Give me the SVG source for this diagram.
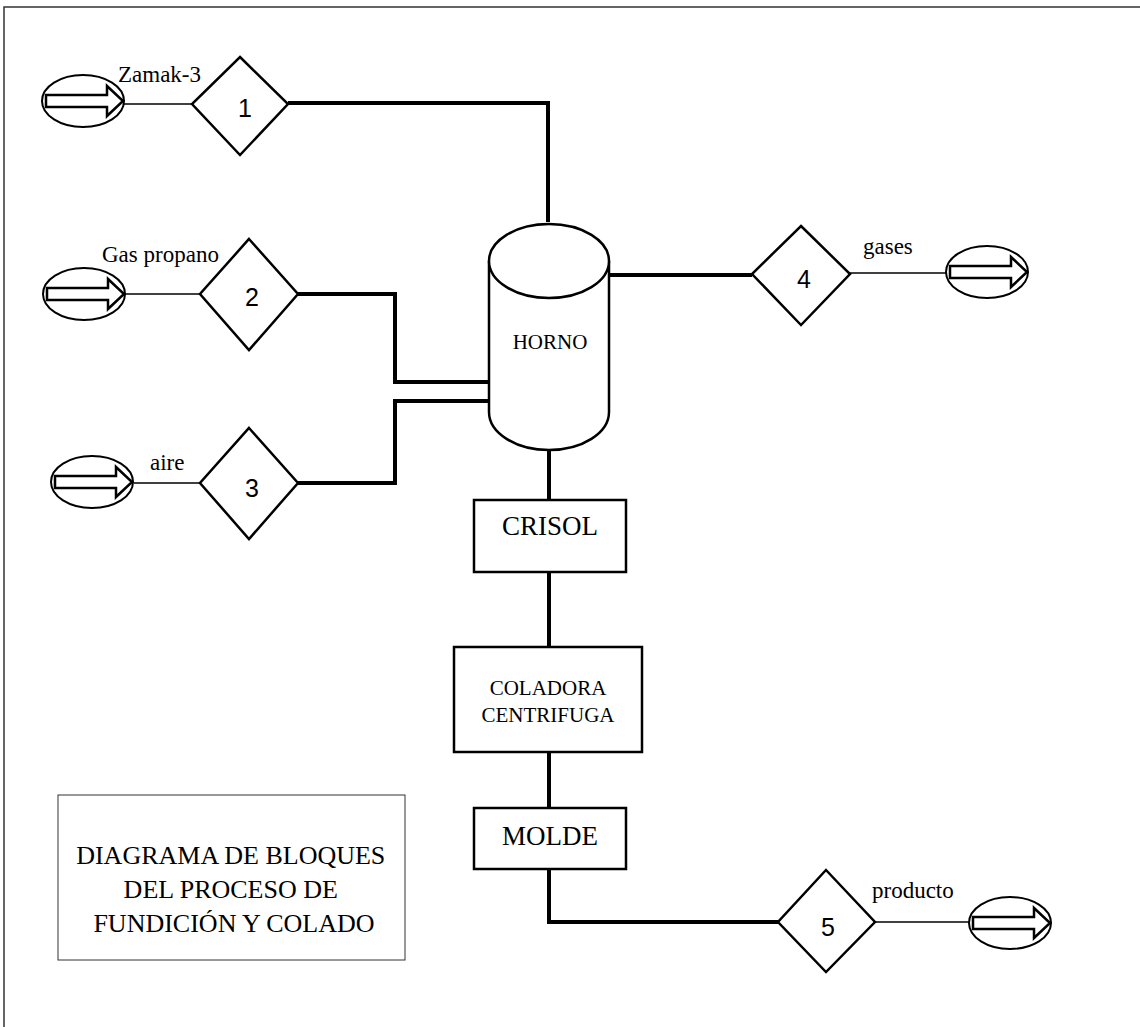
<svg xmlns="http://www.w3.org/2000/svg" width="1140" height="1027" viewBox="0 0 1140 1027">
  <style>
    .frame { fill: none; stroke: #333; stroke-width: 1.5; }
    .shape { fill: #fff; stroke: #000; stroke-width: 2.5; }
    .oval { fill: #fff; stroke: #000; stroke-width: 2; }
    .arrow { fill: #fff; stroke: #000; stroke-width: 2.5; stroke-linejoin: miter; }
    .thick { fill: none; stroke: #000; stroke-width: 4; }
    .thin { fill: none; stroke: #000; stroke-width: 1.3; }
    .lbl { font-family: "Liberation Serif", "Times New Roman", serif; fill: #000; }
    .tag { font-family: "Liberation Serif", "Times New Roman", serif; font-size: 23px; fill: #000; }
    .num { font-family: "Liberation Sans", Arial, sans-serif; font-size: 25px; fill: #000; text-anchor: middle; }
  </style>
  <defs>
    <!-- terminal symbol: oval with block arrow pointing right -->
    <g id="terminal">
      <ellipse class="oval" cx="0" cy="0" rx="41" ry="26"/>
      <path class="arrow" d="M-37,-6 H24 V-15 L40,0 L24,15 V6 H-37 Z"/>
    </g>
  </defs>

  <rect width="1140" height="1027" fill="#fff"/>
  <!-- page border -->
  <path class="frame" d="M4,1027 V7 H1140"/>

  <!-- connectors -->
  <g id="connectors">
    <line class="thin" x1="124" y1="104" x2="193" y2="104"/>
    <line class="thin" x1="125" y1="294" x2="200" y2="294"/>
    <line class="thin" x1="134" y1="483" x2="200" y2="483"/>
    <line class="thin" x1="850" y1="273" x2="946" y2="273"/>
    <line class="thin" x1="875" y1="922" x2="969" y2="922"/>
    <polyline class="thick" points="288,103 548,103 548,222"/>
    <polyline class="thick" points="298,294 395,294 395,382 490,382"/>
    <polyline class="thick" points="298,483 395,483 395,401 490,401"/>
    <line class="thick" x1="608" y1="275" x2="752" y2="275"/>
    <line class="thick" x1="549" y1="450" x2="549" y2="500"/>
    <line class="thick" x1="549" y1="572" x2="549" y2="647"/>
    <line class="thick" x1="549" y1="752" x2="549" y2="808"/>
    <polyline class="thick" points="549,869 549,922 778,922"/>
  </g>

  <!-- inputs -->
  <g id="in-zamak">
    <use href="#terminal" x="83" y="101"/>
    <text class="tag" x="118" y="82">Zamak-3</text>
  </g>
  <g id="diamond-1">
    <polygon class="shape" points="240,57 288,104 240,155 192,104"/>
    <text class="num" x="245" y="117">1</text>
  </g>

  <g id="in-gas">
    <use href="#terminal" x="84" y="294"/>
    <text class="tag" x="102" y="262">Gas propano</text>
  </g>
  <g id="diamond-2">
    <polygon class="shape" points="249,239 298,294 249,350 200,294"/>
    <text class="num" x="252" y="306">2</text>
  </g>

  <g id="in-aire">
    <use href="#terminal" x="92" y="482"/>
    <text class="tag" x="150" y="470">aire</text>
  </g>
  <g id="diamond-3">
    <polygon class="shape" points="249,428 298,483 249,539 200,483"/>
    <text class="num" x="252" y="497">3</text>
  </g>

  <!-- furnace -->
  <g id="horno">
    <path class="shape" d="M489,261 V412 A60,38 0 0 0 609,412 V261"/>
    <ellipse class="shape" cx="549" cy="261" rx="60" ry="37"/>
    <text class="lbl" x="550" y="349" font-size="21" text-anchor="middle">HORNO</text>
  </g>

  <!-- outputs -->
  <g id="diamond-4">
    <polygon class="shape" points="801,226 850,274 801,325 752,274"/>
    <text class="num" x="804" y="288">4</text>
  </g>
  <g id="out-gases">
    <use href="#terminal" x="987" y="272"/>
    <text class="tag" x="863" y="254">gases</text>
  </g>

  <g id="crisol">
    <rect class="shape" x="474" y="500" width="152" height="72"/>
    <text class="lbl" x="550" y="535" font-size="27" text-anchor="middle">CRISOL</text>
  </g>

  <g id="coladora">
    <rect class="shape" x="454" y="647" width="188" height="105"/>
    <text class="lbl" x="548" y="695" font-size="21" text-anchor="middle">COLADORA</text>
    <text class="lbl" x="548" y="722" font-size="21" text-anchor="middle">CENTRIFUGA</text>
  </g>

  <g id="molde">
    <rect class="shape" x="474" y="808" width="152" height="61"/>
    <text class="lbl" x="550" y="845" font-size="27" text-anchor="middle">MOLDE</text>
  </g>

  <g id="diamond-5">
    <polygon class="shape" points="826,870 875,922 826,972 778,922"/>
    <text class="num" x="828" y="936">5</text>
  </g>
  <g id="out-producto">
    <use href="#terminal" x="1010" y="923"/>
    <text class="tag" x="872" y="898">producto</text>
  </g>

  <!-- title block -->
  <g id="title">
    <rect x="58" y="795" width="347" height="165" fill="#fff" stroke="#333" stroke-width="1"/>
    <text class="lbl" font-size="26" text-anchor="middle">
      <tspan x="234" y="864">DIAGRAMA DE BLOQUES</tspan>
      <tspan x="234" y="898">DEL PROCESO DE</tspan>
      <tspan x="234" y="932">FUNDICIÓN Y COLADO</tspan>
    </text>
  </g>
</svg>
